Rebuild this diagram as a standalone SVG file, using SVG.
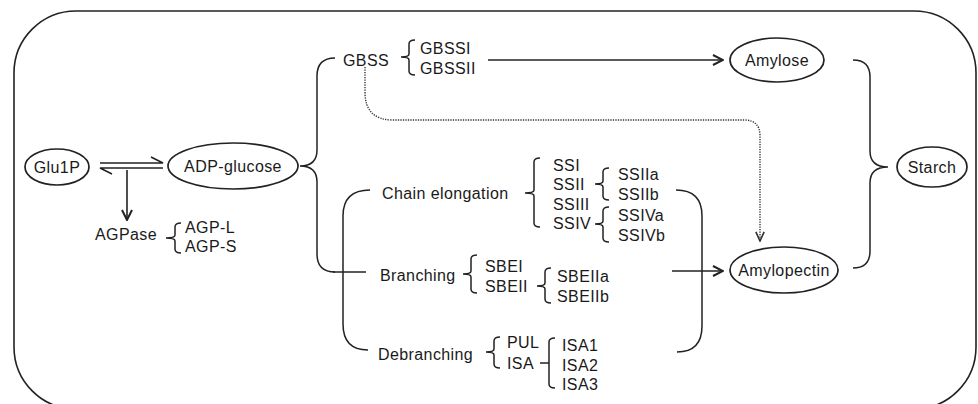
<svg xmlns="http://www.w3.org/2000/svg" width="978" height="404" viewBox="0 0 978 404">
<style>
.t{font-family:"Liberation Sans",Arial,Helvetica,sans-serif;font-size:16px;fill:#1a1a1a;letter-spacing:0.4px}
.c{text-anchor:middle}
.ln{fill:none;stroke:#222;stroke-width:1.6}
.br{fill:none;stroke:#222;stroke-width:1.5}
.el{fill:#fff;stroke:#222;stroke-width:1.7}
.dot{fill:none;stroke:#333;stroke-width:1.4;stroke-dasharray:1.3 1.2}
</style>
<defs>
<marker id="ah" viewBox="0 0 12 12" refX="11" refY="6" markerWidth="12" markerHeight="12" markerUnits="userSpaceOnUse" orient="auto">
<path d="M1,1 L11,6 L1,11" fill="none" stroke="#222" stroke-width="2"/>
</marker>
<marker id="ahd" viewBox="0 0 12 12" refX="11" refY="6" markerWidth="11" markerHeight="11" markerUnits="userSpaceOnUse" orient="auto">
<path d="M1,1.5 L11,6 L1,10.5" fill="none" stroke="#333" stroke-width="1.8"/>
</marker>
</defs>
<rect x="14" y="11" width="962" height="398" rx="62" ry="62" fill="none" stroke="#222" stroke-width="1.6"/>

<g id="connectors">
<!-- Glu1P <-> ADP-glucose -->
<path class="ln" d="M100,163 L163,163 L151,157"/>
<path class="ln" d="M163,168 L100,168 L112,174"/>
<!-- to AGPase -->
<line class="ln" x1="127" y1="170" x2="127" y2="220" marker-end="url(#ah)"/>
<!-- big brace from ADP-glucose -->
<path class="br" d="M335,58 Q317,58 317,76 L317,150 Q317,166 300,166 Q317,166 317,182 L317,254 Q317,272 335,272"/>
<!-- Branching line -->
<line class="ln" x1="333" y1="272" x2="366" y2="272"/>
<!-- inner left bracket -->
<path class="br" d="M370,190 Q343,190 343,216 L343,324 Q343,350 368,350"/>
<!-- inner right bracket -->
<path class="br" d="M676,190 Q702,190 702,216 L702,326 Q702,352 677,352"/>
<!-- GBSSII -> Amylose -->
<line class="ln" x1="488" y1="60" x2="723" y2="60" marker-end="url(#ah)"/>
<!-- Branching -> Amylopectin -->
<line class="ln" x1="672" y1="271" x2="723" y2="271" marker-end="url(#ah)"/>
<!-- dotted GBSS -> Amylopectin -->
<path class="dot" d="M365,67 L365,92 Q365,120 393,120 L744,120 Q760,120 760,136 L760,241" marker-end="url(#ahd)"/>
<!-- Starch brace -->
<path class="br" d="M853,60 Q870,60 870,77 L870,151 Q870,167 888,167 Q870,167 870,183 L870,251 Q870,268 853,268"/>
</g>

<g id="glu1p">
<ellipse class="el" cx="57" cy="167" rx="32" ry="18"/>
<text class="t c" x="57" y="173">Glu1P</text>
</g>
<g id="adp-glucose">
<ellipse class="el" cx="233" cy="166" rx="65" ry="23"/>
<text class="t c" x="233" y="172">ADP-glucose</text>
</g>
<g id="amylose">
<ellipse class="el" cx="777" cy="60" rx="47" ry="22"/>
<text class="t c" x="777" y="66">Amylose</text>
</g>
<g id="amylopectin">
<ellipse class="el" cx="784" cy="270" rx="54" ry="23"/>
<text class="t c" x="784" y="276">Amylopectin</text>
</g>
<g id="starch">
<ellipse class="el" cx="932" cy="167" rx="35" ry="20"/>
<text class="t c" x="932" y="173">Starch</text>
</g>

<g id="agpase">
<text class="t" x="95" y="240">AGPase</text>
<path class="br" d="M181,223 Q175,223 175,227 L175,235 Q175,238 166,238 Q175,238 175,241 L175,249 Q175,253 181,253"/>
<text class="t" x="185" y="233">AGP-L</text>
<text class="t" x="185" y="252">AGP-S</text>
</g>

<g id="gbss">
<text class="t" x="343" y="66">GBSS</text>
<path class="br" d="M415,40 Q409,40 409,44 L409,54 Q409,57 401,57 Q409,57 409,60 L409,71 Q409,75 415,75"/>
<text class="t" x="420" y="54">GBSSI</text>
<text class="t" x="420" y="74">GBSSII</text>
</g>

<g id="chain-elongation">
<text class="t" x="382" y="199">Chain elongation</text>
<path class="br" d="M540,158 Q534,158 534,162 L534,190 Q534,193 525,193 Q534,193 534,196 L534,223 Q534,227 540,227"/>
<text class="t" x="553" y="171">SSI</text>
<text class="t" x="553" y="190">SSII</text>
<text class="t" x="553" y="210">SSIII</text>
<text class="t" x="553" y="229">SSIV</text>
<path class="br" d="M609,168 Q603,168 603,172 L603,181 Q603,184 595,184 Q603,184 603,187 L603,196 Q603,200 609,200"/>
<text class="t" x="618" y="180">SSIIa</text>
<text class="t" x="618" y="200">SSIIb</text>
<path class="br" d="M609,207 Q603,207 603,211 L603,221 Q603,224 595,224 Q603,224 603,227 L603,238 Q603,242 609,242"/>
<text class="t" x="618" y="221">SSIVa</text>
<text class="t" x="618" y="241">SSIVb</text>
</g>

<g id="branching">
<text class="t" x="380" y="281">Branching</text>
<path class="br" d="M477,255 Q471,255 471,259 L471,271 Q471,274 463,274 Q471,274 471,277 L471,289 Q471,293 477,293"/>
<text class="t" x="485" y="272">SBEI</text>
<text class="t" x="485" y="292">SBEII</text>
<path class="br" d="M551,268 Q545,268 545,272 L545,283 Q545,286 537,286 Q545,286 545,289 L545,299 Q545,303 551,303"/>
<text class="t" x="557" y="282">SBEIIa</text>
<text class="t" x="557" y="302">SBEIIb</text>
</g>

<g id="debranching">
<text class="t" x="378" y="360">Debranching</text>
<path class="br" d="M500,337 Q494,337 494,341 L494,349 Q494,352 486,352 Q494,352 494,355 L494,364 Q494,368 500,368"/>
<text class="t" x="507" y="348">PUL</text>
<text class="t" x="507" y="369">ISA</text>
<path class="br" d="M555,338 Q549,338 549,342 L549,384 Q549,388 555,388"/>
<line class="br" x1="540" y1="363" x2="549" y2="363"/>
<text class="t" x="562" y="351">ISA1</text>
<text class="t" x="562" y="371">ISA2</text>
<text class="t" x="562" y="390">ISA3</text>
</g>
</svg>
